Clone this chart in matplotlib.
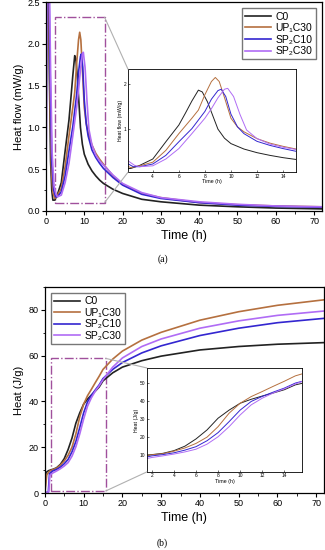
import matplotlib
matplotlib.use("Agg")
import matplotlib.pyplot as plt
from matplotlib.patches import Rectangle, ConnectionPatch
from matplotlib.ticker import MultipleLocator

plt.rcParams['font.family'] = ['Liberation Sans', 'DejaVu Sans']

labels = ['C0', 'UP₁C30', 'SP₂C10', 'SP₂C30']
colors = ['#222222', '#b5703f', '#3326d0', '#b06cf5']

# heat flow (mW/g) vs time (h)
t_c0 = [0, 0.15, 0.5, 0.9, 1.2, 1.5, 1.8, 2.3, 3, 4, 5, 6, 6.5, 7, 7.5, 7.8, 8.2, 8.6, 9, 9.5, 10, 11, 12, 13, 14, 15, 17.5, 20, 25, 30, 40, 50, 60, 72]
q_c0 = [0, 3.2, 3.0, 1.6, 0.6, 0.25, 0.13, 0.13, 0.2, 0.34, 0.72, 1.09, 1.35, 1.62, 1.86, 1.82, 1.6, 1.3, 1.0, 0.8, 0.68, 0.56, 0.48, 0.42, 0.37, 0.33, 0.26, 0.21, 0.14, 0.11, 0.07, 0.05, 0.035, 0.025]
t_up = [0, 0.2, 0.6, 1.0, 1.4, 1.8, 2.3, 3, 4, 5, 6, 7, 7.5, 8, 8.5, 8.8, 9.1, 9.5, 10, 10.5, 11, 12, 13, 14, 15, 17.5, 20, 25, 30, 40, 50, 60, 72]
q_up = [0, 3.2, 3.0, 1.5, 0.5, 0.22, 0.15, 0.19, 0.27, 0.53, 0.9, 1.24, 1.42, 1.76, 2.05, 2.14, 2.05, 1.7, 1.24, 1.05, 0.94, 0.79, 0.69, 0.62, 0.56, 0.42, 0.32, 0.21, 0.16, 0.1, 0.075, 0.06, 0.05]
t_s10 = [0, 0.25, 0.7, 1.1, 1.5, 2, 2.5, 3, 4, 5, 6, 7, 8, 8.5, 9, 9.25, 9.6, 10, 10.5, 11, 12, 13, 14, 15, 17.5, 20, 25, 30, 40, 50, 60, 72]
q_s10 = [0, 3.2, 3.0, 1.6, 0.6, 0.25, 0.17, 0.17, 0.23, 0.42, 0.72, 1.01, 1.39, 1.66, 1.85, 1.88, 1.72, 1.33, 1.05, 0.9, 0.73, 0.64, 0.57, 0.51, 0.4, 0.31, 0.2, 0.15, 0.1, 0.07, 0.055, 0.045]
t_s30 = [0, 0.3, 0.8, 1.2, 1.6, 2.1, 2.6, 3, 4, 5, 6, 7, 8, 8.5, 9, 9.5, 9.75, 10.2, 10.7, 11.2, 12, 13, 14, 15, 17.5, 20, 25, 30, 40, 50, 60, 72]
q_s30 = [0, 3.2, 3.0, 1.7, 0.7, 0.3, 0.2, 0.17, 0.19, 0.34, 0.57, 0.9, 1.24, 1.45, 1.69, 1.88, 1.9, 1.72, 1.32, 0.98, 0.79, 0.67, 0.6, 0.55, 0.43, 0.33, 0.22, 0.16, 0.11, 0.08, 0.06, 0.05]

# cumulative heat (J/g) vs time (h)
th_c0 = [0, 0.3, 1, 2, 3, 4, 5, 6, 7, 8, 9, 10, 11, 12, 13, 14, 15, 17.5, 20, 25, 30, 40, 50, 60, 72]
h_c0 = [0, 9, 9.8, 10.3, 11, 12.5, 15, 19, 24, 30.5, 35, 38.8, 41, 42.8, 44.5, 46.3, 49, 52.5, 55, 57.8, 59.8, 62.5, 64, 65, 65.7]
th_up = [0, 0.5, 1.2, 2, 3, 4, 5, 6, 7, 8, 9, 10, 11, 12, 13, 14, 15, 17.5, 20, 25, 30, 40, 50, 60, 72]
h_up = [0, 8, 9.5, 10.2, 10.8, 12.2, 14, 16.5, 20, 25.8, 33.3, 38.8, 42.5, 45.3, 48.2, 51, 54, 58.5, 62, 66.8, 70.2, 75.5, 79.2, 82, 84.4]
th_s10 = [0, 0.9, 1.2, 2, 3, 4, 5, 6, 7, 8, 9, 10, 11, 12, 13, 14, 15, 17.5, 20, 25, 30, 40, 50, 60, 72]
h_s10 = [0, 0.5, 8.5, 9.6, 10.3, 11.3, 12.8, 14.7, 18, 22.5, 28.6, 35, 39.8, 42.6, 45, 47.2, 50, 54, 57, 61.2, 64.3, 68.8, 72, 74.4, 76.3]
th_s30 = [0, 1.0, 1.3, 2, 3, 4, 5, 6, 7, 8, 9, 10, 11, 12, 13, 14, 15, 17.5, 20, 25, 30, 40, 50, 60, 72]
h_s30 = [0, 0.5, 7.8, 8.7, 9.6, 10.6, 11.8, 13.3, 16.1, 20.2, 25.8, 32.3, 37.9, 41.6, 44.5, 46.8, 49.5, 55, 59, 64, 67.3, 72, 75.2, 77.6, 79.5]

flow = [(t_c0, q_c0), (t_up, q_up), (t_s10, q_s10), (t_s30, q_s30)]
heat = [(th_c0, h_c0), (th_up, h_up), (th_s10, h_s10), (th_s30, h_s30)]

rect_col = '#a0509c'
conn_col = '#b0b0b0'

fig = plt.figure(figsize=(3.25, 5.5), dpi=100)


def style_main(ax):
    ax.tick_params(direction='out', labelsize=6.5, length=3, width=0.8, pad=1.5)
    ax.tick_params(which='minor', direction='out', length=1.8, width=0.6)
    for s in ax.spines.values():
        s.set_linewidth(0.9)


def style_inset(ax):
    ax.tick_params(direction='in', labelsize=3.5, length=1.5, width=0.4, pad=1)
    for s in ax.spines.values():
        s.set_linewidth(0.6)


leg_kw = dict(fontsize=7.5, frameon=True, fancybox=False, edgecolor='#555555',
              handlelength=2.5, handletextpad=0.4, borderpad=0.3,
              labelspacing=0.15, borderaxespad=0.6)

# ---------- (a) heat flow ----------
ax1 = fig.add_axes([0.1415, 0.6164, 0.8485, 0.3796])
for (t, q), c, lab in zip(flow, colors, labels):
    ax1.plot(t, q, color=c, lw=1.2, label=lab)
ax1.set_xlim(0, 72)
ax1.set_ylim(0, 2.5)
ax1.xaxis.set_major_locator(MultipleLocator(10))
ax1.xaxis.set_minor_locator(MultipleLocator(5))
ax1.yaxis.set_major_locator(MultipleLocator(0.5))
ax1.yaxis.set_minor_locator(MultipleLocator(0.25))
ax1.set_xlabel('Time (h)', fontsize=9, labelpad=3)
ax1.set_ylabel('Heat flow (mW/g)', fontsize=8, labelpad=2)
style_main(ax1)
ax1.legend(loc='upper right', **leg_kw)

ax1.add_patch(Rectangle((2.4, 0.1), 12.9, 2.22, fill=False, ls='-.',
                        ec=rect_col, lw=1.0))

in1 = fig.add_axes([0.394, 0.687, 0.517, 0.187])
for (t, q), c in zip(flow, colors):
    in1.plot(t, q, color=c, lw=0.7)
in1.set_xlim(2.1, 15)
in1.set_ylim(0.05, 2.32)
in1.set_xticks([4, 6, 8, 10, 12, 14])
in1.set_yticks([1, 2])
in1.set_xlabel('Time (h)', fontsize=3.8, labelpad=0.5)
in1.set_ylabel('Heat flow (mW/g)', fontsize=3.8, labelpad=1)
style_inset(in1)

for xa, xb in [((15.3, 2.32), (0, 1)), ((15.3, 0.1), (0, 0))]:
    cp = ConnectionPatch(xyA=xa, coordsA=ax1.transData, xyB=xb,
                         coordsB=in1.transAxes, color=conn_col, lw=0.8)
    fig.add_artist(cp)

fig.text(0.5, 0.528, '(a)', ha='center', va='center', fontsize=7,
         family=['Liberation Serif', 'DejaVu Serif'])

# ---------- (b) cumulative heat ----------
ax2 = fig.add_axes([0.138, 0.1036, 0.859, 0.3746])
for (t, h), c, lab in zip(heat, colors, labels):
    ax2.plot(t, h, color=c, lw=1.2, label=lab)
ax2.set_xlim(0, 72)
ax2.set_ylim(0, 90)
ax2.xaxis.set_major_locator(MultipleLocator(10))
ax2.xaxis.set_minor_locator(MultipleLocator(5))
ax2.yaxis.set_major_locator(MultipleLocator(20))
ax2.yaxis.set_minor_locator(MultipleLocator(10))
ax2.set_xlabel('Time (h)', fontsize=9, labelpad=3)
ax2.set_ylabel('Heat (J/g)', fontsize=8, labelpad=3)
style_main(ax2)
ax2.legend(loc='upper left', **leg_kw)

ax2.add_patch(Rectangle((1.5, 0.9), 14.2, 57.9, fill=False, ls='-.',
                        ec=rect_col, lw=1.0))

in2 = fig.add_axes([0.452, 0.142, 0.477, 0.189])
for (t, h), c in zip(heat, colors):
    in2.plot(t, h, color=c, lw=0.7)
in2.set_xlim(1.55, 15.6)
in2.set_ylim(0.7, 58.4)
in2.set_xticks([2, 4, 6, 8, 10, 12, 14])
in2.set_yticks([10, 20, 30, 40, 50])
in2.set_xlabel('Time (h)', fontsize=3.8, labelpad=0.5)
in2.set_ylabel('Heat (J/g)', fontsize=3.8, labelpad=1)
style_inset(in2)

for xa, xb in [((15.7, 58.8), (0, 1)), ((15.7, 0.9), (0, 0))]:
    cp = ConnectionPatch(xyA=xa, coordsA=ax2.transData, xyB=xb,
                         coordsB=in2.transAxes, color=conn_col, lw=0.8)
    fig.add_artist(cp)

fig.text(0.5, 0.013, '(b)', ha='center', va='center', fontsize=7,
         family=['Liberation Serif', 'DejaVu Serif'])

fig.savefig('out.png', dpi=100)
